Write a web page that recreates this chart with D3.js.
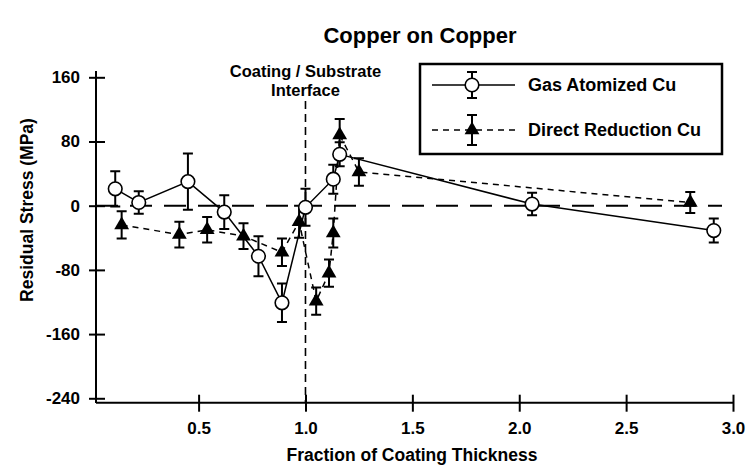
<!DOCTYPE html>
<html>
<head>
<meta charset="utf-8">
<style>
body { margin: 0; background: #fff; }
text { font-family: "Liberation Sans", Arial, sans-serif; font-weight: bold; fill: #000; }
</style>
</head>
<body>
<svg width="747" height="467"></svg>
<script src="https://d3js.org/d3.v7.min.js"></script>
<script>
// Gas Atomized Cu (open circles, solid line)
var gaX   = [0.11, 0.22, 0.45, 0.62, 0.78, 0.89, 1.00, 1.13, 1.16, 2.06, 2.91];
var gaY   = [21, 4, 30, -8, -63, -121, -2, 33, 64, 2, -31];
var gaErr = [22, 14, 35, 21, 25, 24, 23, 18, 15, 14, 15];

// Direct Reduction Cu (filled triangles, dashed line)
var drX   = [0.14, 0.41, 0.54, 0.71, 0.89, 0.97, 1.05, 1.11, 1.13, 1.16, 1.25, 2.80];
var drY   = [-24, -36, -30, -38, -58, -20, -119, -84, -34, 88, 42, 4];
var drErr = [17, 16, 16, 16, 17, 20, 17, 17, 18, 20, 17, 13];

var xTicks = [0.5, 1.0, 1.5, 2.0, 2.5, 3.0];
var yTicks = [160, 80, 0, -80, -160, -240];

var svg = d3.select("svg");

var x = d3.scaleLinear().domain([0.02, 3.0]).range([96, 733]);
var y = d3.scaleLinear().domain([-245.5, 160]).range([402.7, 77.3]);

var ga = gaX.map(function(d, i) { return {x: d, y: gaY[i], e: gaErr[i]}; });
var dr = drX.map(function(d, i) { return {x: d, y: drY[i], e: drErr[i]}; });

// title
svg.append("text")
    .attr("x", 420).attr("y", 43)
    .attr("text-anchor", "middle")
    .style("font-size", "22px")
    .text("Copper on Copper");

// axes
var xAxis = d3.axisBottom(x).tickValues(xTicks).tickFormat(d3.format(".1f"))
    .tickSizeInner(8).tickSizeOuter(0).tickPadding(11);
var yAxis = d3.axisLeft(y).tickValues(yTicks).tickFormat(function(d) { return String(d); })
    .tickSizeInner(6).tickSizeOuter(0).tickPadding(10);

var gx = svg.append("g").attr("transform", "translate(0," + y(-245.5) + ")").call(xAxis);
var gy = svg.append("g").attr("transform", "translate(" + x(0.02) + ",0)").call(yAxis);

gx.select(".domain").attr("stroke-width", 2).attr("d", "M96,0H733");
gy.select(".domain").attr("stroke-width", 2).attr("d", "M0,71V403");
gx.selectAll(".tick line").attr("y1", -8).attr("y2", 9).attr("stroke-width", 2);
gy.selectAll(".tick line").attr("x1", -7).attr("x2", 9).attr("stroke-width", 2);
gx.selectAll("text").style("font-size", "17px").style("font-family", "Liberation Sans").style("font-weight", "bold");
gy.selectAll("text").style("font-size", "17px").style("font-family", "Liberation Sans").style("font-weight", "bold");

// axis labels
svg.append("text")
    .attr("x", 412).attr("y", 461)
    .attr("text-anchor", "middle")
    .style("font-size", "17.5px")
    .text("Fraction of Coating Thickness");

svg.append("text")
    .attr("transform", "translate(33,210) rotate(-90)")
    .attr("text-anchor", "middle")
    .style("font-size", "17.5px")
    .text("Residual Stress (MPa)");

// zero line
svg.append("line")
    .attr("x1", x(0.02)).attr("x2", 722)
    .attr("y1", y(0)).attr("y2", y(0))
    .attr("stroke", "#000").attr("stroke-width", 2)
    .attr("stroke-dasharray", "22,12");

// interface line
svg.append("line")
    .attr("x1", x(1)).attr("x2", x(1))
    .attr("y1", 101).attr("y2", 402)
    .attr("stroke", "#000").attr("stroke-width", 1.6)
    .attr("stroke-dasharray", "8,5");

svg.append("text").attr("x", x(1)).attr("y", 77).attr("text-anchor", "middle")
    .style("font-size", "16.5px").text("Coating / Substrate");
svg.append("text").attr("x", x(1)).attr("y", 96).attr("text-anchor", "middle")
    .style("font-size", "16.5px").text("Interface");

var line = d3.line().x(function(d) { return x(d.x); }).y(function(d) { return y(d.y); });

// series lines
svg.append("path").datum(dr).attr("d", line)
    .attr("fill", "none").attr("stroke", "#000").attr("stroke-width", 1.5)
    .attr("stroke-dasharray", "6,5");
svg.append("path").datum(ga).attr("d", line)
    .attr("fill", "none").attr("stroke", "#000").attr("stroke-width", 1.5);

function errorBars(data, cls) {
  var g = svg.append("g").attr("class", cls);
  g.selectAll("path").data(data).enter().append("path")
      .attr("d", function(d) {
        var cx = x(d.x), t = y(d.y + d.e), b = y(d.y - d.e);
        return "M" + cx + "," + t + "V" + b +
               "M" + (cx - 5) + "," + t + "H" + (cx + 5) +
               "M" + (cx - 5) + "," + b + "H" + (cx + 5);
      })
      .attr("fill", "none").attr("stroke", "#000").attr("stroke-width", 2);
}
errorBars(dr, "dr-err");
errorBars(ga, "ga-err");

var tri = d3.symbol().type(d3.symbolTriangle).size(95);

svg.append("g").selectAll("path").data(dr).enter().append("path")
    .attr("d", tri)
    .attr("transform", function(d) { return "translate(" + x(d.x) + "," + y(d.y) + ")"; })
    .attr("fill", "#000");

svg.append("g").selectAll("circle").data(ga).enter().append("circle")
    .attr("cx", function(d) { return x(d.x); })
    .attr("cy", function(d) { return y(d.y); })
    .attr("r", 6.8)
    .attr("fill", "#fff").attr("stroke", "#000").attr("stroke-width", 1.6);

// legend
var lg = svg.append("g");
lg.append("rect").attr("x", 420).attr("y", 64).attr("width", 302).attr("height", 90)
    .attr("fill", "#fff").attr("stroke", "#000").attr("stroke-width", 2.5);

lg.append("line").attr("x1", 432).attr("x2", 515).attr("y1", 85).attr("y2", 85)
    .attr("stroke", "#000").attr("stroke-width", 1.5);
lg.append("path").attr("d", "M472,72V98M467,72H477M467,98H477")
    .attr("stroke", "#000").attr("stroke-width", 2).attr("fill", "none");
lg.append("circle").attr("cx", 472).attr("cy", 85).attr("r", 6.8)
    .attr("fill", "#fff").attr("stroke", "#000").attr("stroke-width", 1.6);
lg.append("text").attr("x", 528).attr("y", 91).style("font-size", "18px").text("Gas Atomized Cu");

lg.append("line").attr("x1", 432).attr("x2", 515).attr("y1", 130).attr("y2", 130)
    .attr("stroke", "#000").attr("stroke-width", 1.5).attr("stroke-dasharray", "6,5");
lg.append("path").attr("d", "M472,115V145M467,115H477M467,145H477")
    .attr("stroke", "#000").attr("stroke-width", 2).attr("fill", "none");
lg.append("path").attr("d", tri).attr("transform", "translate(472,130)").attr("fill", "#000");
lg.append("text").attr("x", 528).attr("y", 136).style("font-size", "18px").text("Direct Reduction Cu");
</script>
</body>
</html>
